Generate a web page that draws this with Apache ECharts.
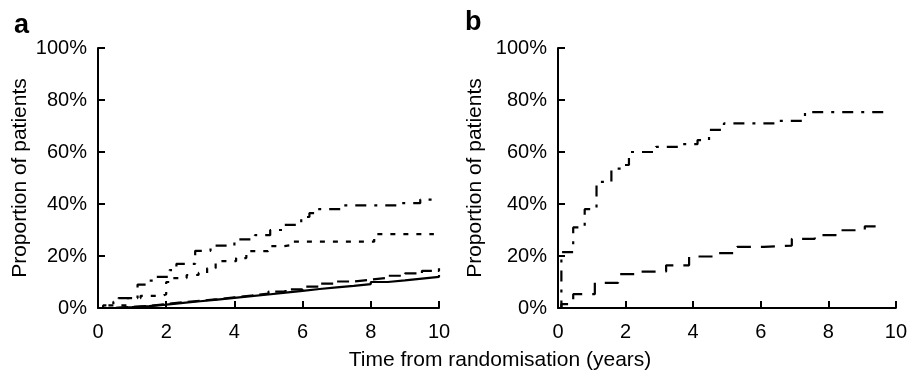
<!DOCTYPE html>
<html>
<head>
<meta charset="utf-8">
<script src="https://cdn.jsdelivr.net/npm/echarts@6/dist/echarts.min.js"></script>
<style>
html,body{margin:0;padding:0;background:#fff;}
#chart{width:910px;height:378px;}
</style>
</head>
<body>
<div id="chart"></div>
<script>
// Panel a: [time (years), cumulative proportion (%)]
const aSolid = [[0,0],[0.5,0.3],[1,0.7],[1.5,1.3],[2,2.0],[2.5,2.6],[3,3.2],[3.5,3.9],[4,4.6],[4.5,5.2],[5,5.9],[5.5,6.6],[6,7.3],[6.5,7.9],[7,8.5],[7.5,9.2],[8,10.0],[8.5,10.6],[9,11.3],[9.5,12.0],[10,12.7]];
const aDashed = [[0,0],[0.5,0.4],[1,0.8],[1.5,1.5],[2,2.2],[2.5,2.8],[3,3.4],[3.5,4.1],[4,4.8],[4.5,5.5],[5,6.3],[5.5,7.2],[6,8.2],[6.5,9.4],[7,10.2],[7.5,10.9],[8,11.6],[8.5,12.4],[9,13.3],[9.5,14.3],[10,15.3]];
const aDotted = [[0,0],[0.3,1],[0.85,3.8],[1.25,4.7],[1.9,5.3],[2.0,10],[2.2,11.5],[2.6,12.7],[2.95,13.5],[3.2,15.3],[3.45,18],[4.05,19.2],[4.35,21.9],[4.99,23.8],[5.45,24.2],[5.7,25.5],[8.1,28.4],[9.85,28.4]];
const aDashDot = [[0,0],[0.15,1],[0.45,2.4],[0.6,3.8],[1.16,9],[1.5,10.5],[1.7,12],[2.1,14.6],[2.3,17],[2.85,22],[3.3,24],[4.0,26.4],[4.6,28],[5.05,30],[5.47,32],[5.96,35],[6.2,36.5],[6.4,38],[7.2,39.5],[8.9,40.3],[9.45,41.7],[9.97,41.7]];
// Panel b
const bDashDot = [[0,0],[0.1,21.5],[0.45,31],[0.79,38],[1.14,48.5],[1.58,53.6],[1.95,55],[2.1,60],[2.9,62],[3.69,63],[4.13,64.6],[4.47,68.5],[4.91,71],[6.43,72],[7.31,75.3],[9.8,75.3]];
const bDashed = [[0,0],[0.1,1.5],[0.45,5.3],[1.09,9.7],[1.78,13],[2.46,14],[3.2,16.4],[3.88,19.8],[4.62,21.1],[5.3,23.5],[6.09,24],[6.92,26.6],[7.6,28],[8.39,29.9],[9.08,31.4],[9.6,31.4]];

const xTicks = {min:0, max:10, interval:2};
const yTicks = {min:0, max:100, interval:20};
const yName = 'Proportion of patients';
const xName = 'Time from randomisation (years)';
const panelLabels = ['a','b'];

const FONT = '"Liberation Sans", Arial, Helvetica, sans-serif';

function xAxisCfg(gi){
  return {
    type:'value', gridIndex:gi, min:xTicks.min, max:xTicks.max, interval:xTicks.interval,
    axisLine:{show:true, onZero:false, lineStyle:{color:'#000', width:2}},
    axisTick:{show:true, inside:true, length:7, lineStyle:{color:'#000', width:2}},
    axisLabel:{color:'#000', fontSize:20, fontFamily:FONT, margin:14},
    splitLine:{show:false}
  };
}
function yAxisCfg(gi, gap){
  return {
    type:'value', gridIndex:gi, min:yTicks.min, max:yTicks.max, interval:yTicks.interval,
    name:yName, nameLocation:'middle', nameGap:gap,
    nameTextStyle:{color:'#000', fontSize:21, fontFamily:FONT},
    axisLine:{show:true, onZero:false, lineStyle:{color:'#000', width:2}},
    axisTick:{show:true, inside:true, length:7, lineStyle:{color:'#000', width:2}},
    axisLabel:{color:'#000', fontSize:20, fontFamily:FONT, margin:11, formatter:'{value}%'},
    splitLine:{show:false}
  };
}
function stepSeries(data, gi, type, width){
  return {
    type:'line', step:'end', xAxisIndex:gi, yAxisIndex:gi, data:data,
    showSymbol:false, symbol:'none', silent:true,
    lineStyle:{color:'#000', width:width||2, type:type}
  };
}

const chart = echarts.init(document.getElementById('chart'), null, {renderer:'canvas'});
chart.setOption({
  animation:false,
  backgroundColor:'#fff',
  grid:[
    {left:98, right:471, top:48, bottom:70},
    {left:558, right:12, top:48, bottom:70}
  ],
  xAxis:[xAxisCfg(0), xAxisCfg(1)],
  yAxis:[yAxisCfg(0, 67), yAxisCfg(1, 72)],
  series:[
    stepSeries(aSolid, 0, 'solid', 2.2),
    stepSeries(aDashed, 0, [12,6], 2.2),
    stepSeries(aDotted, 0, [5,8], 2.2),
    stepSeries(aDashDot, 0, [11,8,3,8], 2.2),
    stepSeries(bDashDot, 1, [11,8,3,8], 2.2),
    stepSeries(bDashed, 1, [14,10], 2.2)
  ],
  graphic:[
    {type:'text', left:14, top:12, style:{text:panelLabels[0], font:'bold 27px ' + FONT, fill:'#000'}},
    {type:'text', left:465, top:9, style:{text:panelLabels[1], font:'bold 27px ' + FONT, fill:'#000'}},
    {type:'text', x:500, y:360, style:{text:xName, font:'21px ' + FONT, fill:'#000', textAlign:'center', textVerticalAlign:'middle'}}
  ]
});
</script>
</body>
</html>
